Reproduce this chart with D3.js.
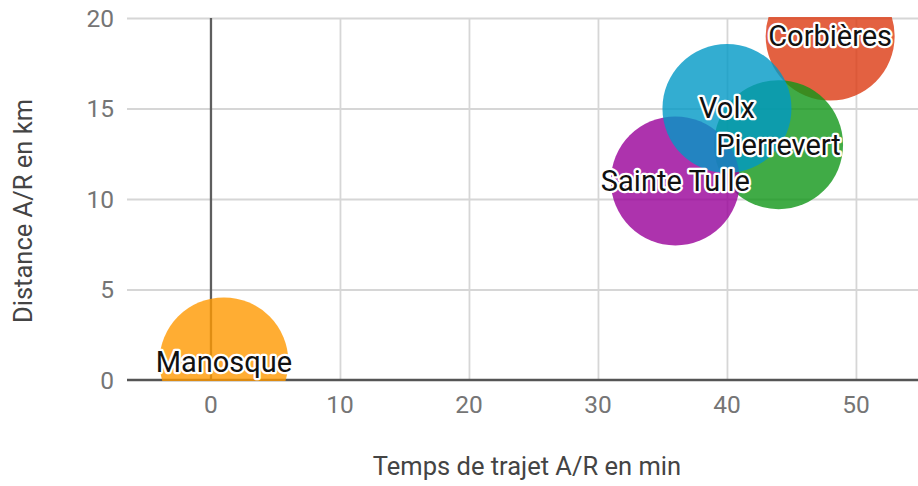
<!DOCTYPE html>
<html>
<head>
<meta charset="utf-8">
<script src="https://cdn.jsdelivr.net/npm/d3@7"></script>
<style>
  html, body { margin: 0; padding: 0; background: #fff; }
  svg { display: block; font-family: Roboto, "Noto Sans", sans-serif; }
</style>
</head>
<body>
<svg id="chart" width="918" height="486"></svg>
<script>
// ---- data ----
const cities = ["Corbières", "Manosque", "Pierrevert", "Sainte Tulle", "Volx"];
const tempsMin = [48, 1, 44, 36, 40];          // Temps de trajet A/R en min
const distanceKm = [19, 1, 13, 11, 15];        // Distance A/R en km
const bubbleSize = [1, 1, 1, 1, 1];
const colors = ["#dc3912", "#ff9900", "#109618", "#990099", "#0099c6"];
const xTicks = [0, 10, 20, 30, 40, 50];
const yTicks = [0, 5, 10, 15, 20];
const xTitle = "Temps de trajet A/R en min";
const yTitle = "Distance A/R en km";

// ---- layout ----
const svg = d3.select("#chart");
const pL = 127, pR = 918, pT = 18, pB = 380;

const x = d3.scaleLinear().domain([-6.51, 54.81]).range([pL, pR]);
const y = d3.scaleLinear().domain([0, 20]).range([pB, pT]);
const r = d3.scaleSqrt().domain([0, d3.max(bubbleSize)]).range([0, 64.5]);

// clip
svg.append("defs").append("clipPath").attr("id", "plotClip")
  .append("rect").attr("x", pL).attr("y", pT - 1).attr("width", pR - pL).attr("height", pB - pT + 2);

// grid (horizontal)
const gy = svg.append("g")
  .attr("transform", `translate(${pL},0)`)
  .call(d3.axisLeft(y).tickValues(yTicks.filter(v => v !== 0)).tickSize(-(pR - pL)).tickFormat(""));
gy.select(".domain").remove();
gy.selectAll(".tick line").attr("stroke", "#d6d6d6").attr("stroke-width", 1.8);

// grid (vertical)
const gx = svg.append("g")
  .attr("transform", `translate(0,${pT})`)
  .call(d3.axisBottom(x).tickValues(xTicks.filter(v => v !== 0)).tickSize(pB - pT).tickFormat(""));
gx.select(".domain").remove();
gx.selectAll(".tick line").attr("stroke", "#d6d6d6").attr("stroke-width", 1.8);

// zero baseline (vertical at x=0)
svg.append("line")
  .attr("x1", x(0)).attr("x2", x(0)).attr("y1", pT).attr("y2", pB)
  .attr("stroke", "#5e5e5e").attr("stroke-width", 2.3);

// x axis line (y=0)
svg.append("line")
  .attr("x1", pL).attr("x2", pR).attr("y1", y(0)).attr("y2", y(0))
  .attr("stroke", "#555").attr("stroke-width", 2.5);

// bubbles
const data = cities.map((c, i) => ({ name: c, t: tempsMin[i], d: distanceKm[i], s: bubbleSize[i], color: colors[i] }));

svg.append("g").attr("clip-path", "url(#plotClip)")
  .selectAll("circle").data(data).join("circle")
  .attr("cx", d => x(d.t))
  .attr("cy", d => y(d.d))
  .attr("r", d => r(d.s))
  .attr("fill", d => d.color)
  .attr("fill-opacity", 0.8);

// labels
svg.append("g").selectAll("text").data(data).join("text")
  .attr("x", d => x(d.t))
  .attr("y", d => y(d.d))
  .attr("dy", "0.34em")
  .attr("text-anchor", "middle")
  .attr("font-size", 29)
  .attr("fill", "#111")
  .attr("stroke", "#fff")
  .attr("stroke-width", 4.5)
  .attr("stroke-linejoin", "round")
  .attr("paint-order", "stroke")
  .text(d => d.name);

// y tick labels
svg.append("g").selectAll("text").data(yTicks).join("text")
  .attr("x", 114)
  .attr("y", d => y(d))
  .attr("dy", "0.36em")
  .attr("text-anchor", "end")
  .attr("font-size", 24.5)
  .attr("fill", "#757575")
  .text(d => d);

// x tick labels
svg.append("g").selectAll("text").data(xTicks).join("text")
  .attr("x", d => x(d))
  .attr("y", 413)
  .attr("text-anchor", "middle")
  .attr("font-size", 24.5)
  .attr("fill", "#757575")
  .text(d => d);

// axis titles
svg.append("text")
  .attr("x", 527).attr("y", 475)
  .attr("text-anchor", "middle")
  .attr("font-size", 25.5)
  .attr("fill", "#444")
  .text(xTitle);

svg.append("text")
  .attr("transform", "translate(32,211) rotate(-90)")
  .attr("text-anchor", "middle")
  .attr("font-size", 25.5)
  .attr("fill", "#444")
  .text(yTitle);
</script>
</body>
</html>
